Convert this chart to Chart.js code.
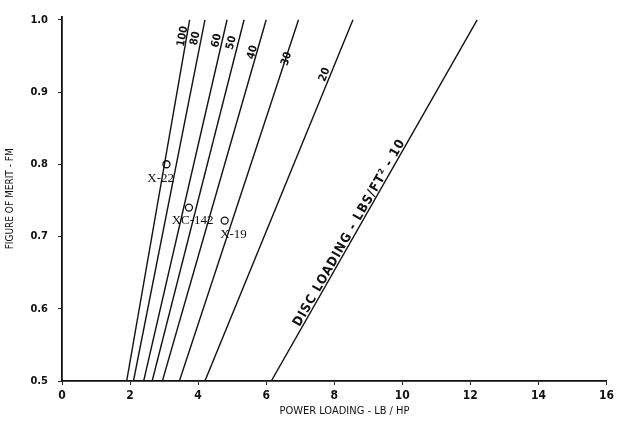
<!DOCTYPE html>
<html lang="en">
<head>
  <meta charset="UTF-8">
  <title>Figure of Merit vs Power Loading</title>
  <script src="https://cdn.jsdelivr.net/npm/chart.js"></script>
  <style>
    html, body { margin: 0; padding: 0; background: #fff; }
    #wrap { width: 618px; height: 430px; }
  </style>
</head>
<body>
  <div id="wrap"><canvas id="fmChart"></canvas></div>

  <script>
    // disc loading lines, lb/ft^2, with power loading read where each meets FM 0.5 and FM 1.0
    const discLoadings = [100, 80, 60, 50, 40, 30, 20, 10];
    const plAtFmLow = [1.9, 2.1, 2.4, 2.65, 2.95, 3.45, 4.2, 6.15];
    const plAtFmHigh = [3.75, 4.2, 4.85, 5.35, 6.0, 6.95, 8.55, 12.2];
    const fmRange = [0.5, 1.0];

    // aircraft points
    const aircraft = ['X-22', 'XC-142', 'X-19'];
    const aircraftPL = [3.07, 3.73, 4.78];
    const aircraftFM = [0.80, 0.74, 0.722];

    const xTicks = [0, 2, 4, 6, 8, 10, 12, 14, 16];
    const yTicks = [0.5, 0.6, 0.7, 0.8, 0.9, 1.0];

    const FONT = '"DejaVu Sans Condensed", "Liberation Sans Narrow", sans-serif';
    const SERIF = '"Liberation Serif", "DejaVu Serif", serif';

    // line labels: which line, where along it (power loading, FM)
    const lineLabels = [
      { text: '100', line: 0, x: 3.55, y: 0.977 },
      { text: '80', line: 1, x: 3.92, y: 0.974 },
      { text: '60', line: 2, x: 4.55, y: 0.971 },
      { text: '50', line: 3, x: 4.98, y: 0.968 },
      { text: '40', line: 4, x: 5.6, y: 0.955 },
      { text: '30', line: 5, x: 6.6, y: 0.946 },
      { text: '20', line: 6, x: 7.72, y: 0.924 },
      { text: 'DISC LOADING - LBS/FT\u00B2 - 10', line: 7, x: 8.45, y: 0.705, big: true }
    ];
    const pointLabels = [
      { text: 'X-22', x: 2.9, y: 0.78 },
      { text: 'XC-142', x: 3.84, y: 0.722 },
      { text: 'X-19', x: 5.04, y: 0.702 }
    ];

    const datasets = discLoadings.map((dl, i) => ({
      label: 'DL ' + dl,
      data: [{ x: plAtFmLow[i], y: fmRange[0] }, { x: plAtFmHigh[i], y: fmRange[1] }],
      showLine: true,
      borderColor: '#111',
      borderWidth: 1.4,
      pointRadius: 0
    }));
    datasets.push({
      label: 'Aircraft',
      data: aircraft.map((n, i) => ({ x: aircraftPL[i], y: aircraftFM[i] })),
      showLine: false,
      pointStyle: 'circle',
      pointRadius: 3.5,
      pointBackgroundColor: '#fff',
      pointBorderColor: '#111',
      pointBorderWidth: 1.3
    });

    const textPlugin = {
      id: 'textLabels',
      afterDatasetsDraw(chart) {
        const ctx = chart.ctx;
        const xs = chart.scales.x, ys = chart.scales.y;
        ctx.save();
        ctx.fillStyle = '#111';
        ctx.textAlign = 'center';
        ctx.textBaseline = 'middle';
        lineLabels.forEach(l => {
          const x0 = xs.getPixelForValue(plAtFmLow[l.line]);
          const y0 = ys.getPixelForValue(fmRange[0]);
          const x1 = xs.getPixelForValue(plAtFmHigh[l.line]);
          const y1 = ys.getPixelForValue(fmRange[1]);
          const ang = Math.atan2(y1 - y0, x1 - x0);
          ctx.save();
          ctx.translate(xs.getPixelForValue(l.x), ys.getPixelForValue(l.y));
          ctx.rotate(ang);
          ctx.font = (l.big ? 'bold 13px ' : 'bold 11px ') + FONT;
          ctx.letterSpacing = l.big ? '1px' : '0px';
          ctx.fillText(l.text, 0, 0);
          ctx.restore();
        });
        ctx.font = '13px ' + SERIF;
        pointLabels.forEach(p => {
          ctx.fillText(p.text, xs.getPixelForValue(p.x), ys.getPixelForValue(p.y));
        });
        // x axis title, sits a little right of the plot centre in the original
        ctx.font = '11px ' + FONT;
        ctx.fillText('POWER LOADING - LB / HP', xs.getPixelForValue(8.3), chart.height - 19);
        ctx.restore();
      }
    };

    new Chart(document.getElementById('fmChart').getContext('2d'), {
      type: 'scatter',
      data: { datasets: datasets },
      plugins: [textPlugin],
      options: {
        responsive: true,
        maintainAspectRatio: false,
        animation: false,
        layout: { padding: { left: 0, right: 10, top: 0, bottom: 8 } },
        plugins: { legend: { display: false }, tooltip: { enabled: false } },
        scales: {
          x: {
            type: 'linear',
            min: 0,
            max: 16,
            afterFit: s => { s.height = 41; },
            afterBuildTicks: s => { s.ticks = xTicks.map(v => ({ value: v })); },
            grid: { drawOnChartArea: false, drawTicks: true, tickLength: 4, color: '#222' },
            border: { display: true, color: '#111', width: 1.8 },
            ticks: { color: '#111', padding: 4, maxRotation: 0, font: { family: FONT, size: 12, weight: 'bold' } },
            title: { display: false }
          },
          y: {
            type: 'linear',
            min: 0.5,
            max: 1.0044,
            afterFit: s => { s.width = 62; },
            afterBuildTicks: s => { s.ticks = yTicks.map(v => ({ value: v })); },
            grid: { drawOnChartArea: false, drawTicks: true, tickLength: 4, color: '#222' },
            border: { display: true, color: '#111', width: 1.8 },
            ticks: { color: '#111', padding: 10, callback: v => v.toFixed(1), font: { family: FONT, size: 11, weight: 'bold' } },
            title: { display: true, text: 'FIGURE OF MERIT - FM', color: '#111', padding: { top: 4, bottom: 0 }, font: { family: FONT, size: 10 } }
          }
        }
      }
    });
  </script>
</body>
</html>
